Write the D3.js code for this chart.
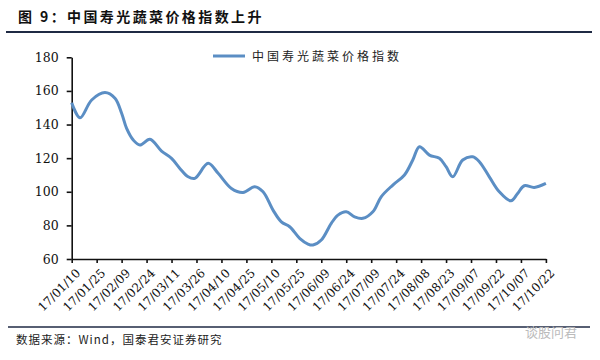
<!DOCTYPE html>
<html><head><meta charset="utf-8">
<script src="https://cdn.jsdelivr.net/npm/d3@7"></script>
<style>body{margin:0;background:#fff;}svg{display:block;}</style>
</head><body>
<svg id="c" width="600" height="360"></svg>
<script>
const title = "图  9：中国寿光蔬菜价格指数上升";
const seriesName = "中国寿光蔬菜价格指数";
const source = "数据来源：Wind，国泰君安证券研究";
const watermark = "谈股问君";
const dates = ["2017-01-10","2017-01-15","2017-01-22","2017-01-30","2017-02-05","2017-02-09","2017-02-12","2017-02-16","2017-02-20","2017-02-26",
"2017-03-05","2017-03-11","2017-03-16","2017-03-21","2017-03-25","2017-04-02","2017-04-08","2017-04-16","2017-04-23","2017-04-30",
"2017-05-05","2017-05-11","2017-05-16","2017-05-21","2017-05-27","2017-06-01","2017-06-04","2017-06-09","2017-06-15","2017-06-19",
"2017-06-24","2017-06-29","2017-07-04","2017-07-10","2017-07-15","2017-07-22","2017-07-29","2017-08-03","2017-08-07","2017-08-13",
"2017-08-19","2017-08-23","2017-08-27","2017-09-02","2017-09-08","2017-09-12","2017-09-18","2017-09-24","2017-10-01","2017-10-05",
"2017-10-09","2017-10-15","2017-10-22"];
const values = [153,144,154.6,159,155.6,146.7,137.7,130.8,127.8,131.2,
124.2,119.9,113.9,108.9,108,116.9,111,102,99.6,103,
100,89.1,82.1,79.2,72.3,68.9,68.3,71.3,81.2,86.1,
88.1,85.1,84.2,88.1,97,104,110,118.9,126.8,121.8,
119.9,114.9,108.9,118.9,120.8,117.9,108.9,100,94.6,99,
103.6,102.6,105];
const xTickLabels = ["17/01/10","17/01/25","17/02/09","17/02/24","17/03/11","17/03/26","17/04/10","17/04/25","17/05/10","17/05/25",
"17/06/09","17/06/24","17/07/09","17/07/24","17/08/08","17/08/23","17/09/07","17/09/22","17/10/07","17/10/22"];
const yTicks = [60,80,100,120,140,160,180];

const parse = d3.timeParse("%Y-%m-%d");
const fmt = d3.timeFormat("%y/%m/%d");
const data = dates.map((d,i)=>({date:parse(d), v:values[i]}));
const tickDates = xTickLabels.map(s=>d3.timeParse("%y/%m/%d")(s));

const svg = d3.select("#c");
const pLeft = 71.7, pRight = 545.9, pTop = 57.3, pBottom = 259;
const x = d3.scaleTime().domain([tickDates[0], tickDates[tickDates.length-1]]).range([pLeft, pRight]);
const y = d3.scaleLinear().domain([60,180]).range([pBottom, pTop]);

// title
svg.append("text").attr("x",18).attr("y",22)
  .attr("font-family","'Noto Sans CJK SC'").attr("font-weight","bold").attr("font-size",14)
  .attr("letter-spacing",2.4).attr("fill","#111").text(title);
svg.append("line").attr("x1",6).attr("x2",592).attr("y1",32).attr("y2",32)
  .attr("stroke","#1f2a44").attr("stroke-width",2);

// legend
svg.append("line").attr("x1",213).attr("x2",245).attr("y1",56).attr("y2",56)
  .attr("stroke","#5b8ec4").attr("stroke-width",3);
svg.append("text").attr("x",252).attr("y",60.5)
  .attr("font-family","'Noto Sans CJK SC'").attr("font-size",12).attr("letter-spacing",3)
  .attr("fill","#222").text(seriesName);

// axes
const yAxis = svg.append("g").attr("transform",`translate(${pLeft},0)`)
  .call(d3.axisLeft(y).tickValues(yTicks).tickSize(5).tickPadding(8).tickSizeOuter(0));
const xAxis = svg.append("g").attr("transform",`translate(0,${pBottom})`)
  .call(d3.axisBottom(x).tickValues(tickDates).tickFormat(fmt).tickSize(4).tickSizeOuter(0));
[yAxis,xAxis].forEach(g=>{
  g.select(".domain").attr("stroke","#111").attr("stroke-width",1.6);
  g.selectAll(".tick line").attr("stroke","#111").attr("stroke-width",1.6);
  g.selectAll("text").attr("font-family","'DejaVu Serif'").attr("font-size",12).attr("fill","#111");
});
yAxis.selectAll("text").attr("font-size",12.5);
xAxis.selectAll("text")
  .attr("text-anchor","end")
  .attr("dy","0")
  .attr("transform","translate(4,10) rotate(-45)");

// line
svg.append("path").datum(data)
  .attr("fill","none").attr("stroke","#5b8ec4").attr("stroke-width",3)
  .attr("d", d3.line().x(d=>x(d.date)).y(d=>y(d.v)).curve(d3.curveCatmullRom.alpha(0.5)));

// footer
svg.append("line").attr("x1",8).attr("x2",590).attr("y1",327).attr("y2",327)
  .attr("stroke","#1f2a44").attr("stroke-width",1.5);
svg.append("text").attr("x",16).attr("y",344)
  .attr("font-family","'Noto Sans CJK SC'").attr("font-size",11.5).attr("letter-spacing",1)
  .attr("fill","#222").text(source);
svg.append("text").attr("x",525).attr("y",337)
  .attr("font-family","'Noto Sans CJK SC'").attr("font-size",13)
  .attr("fill","#bbb").text(watermark);
</script>
</body></html>
